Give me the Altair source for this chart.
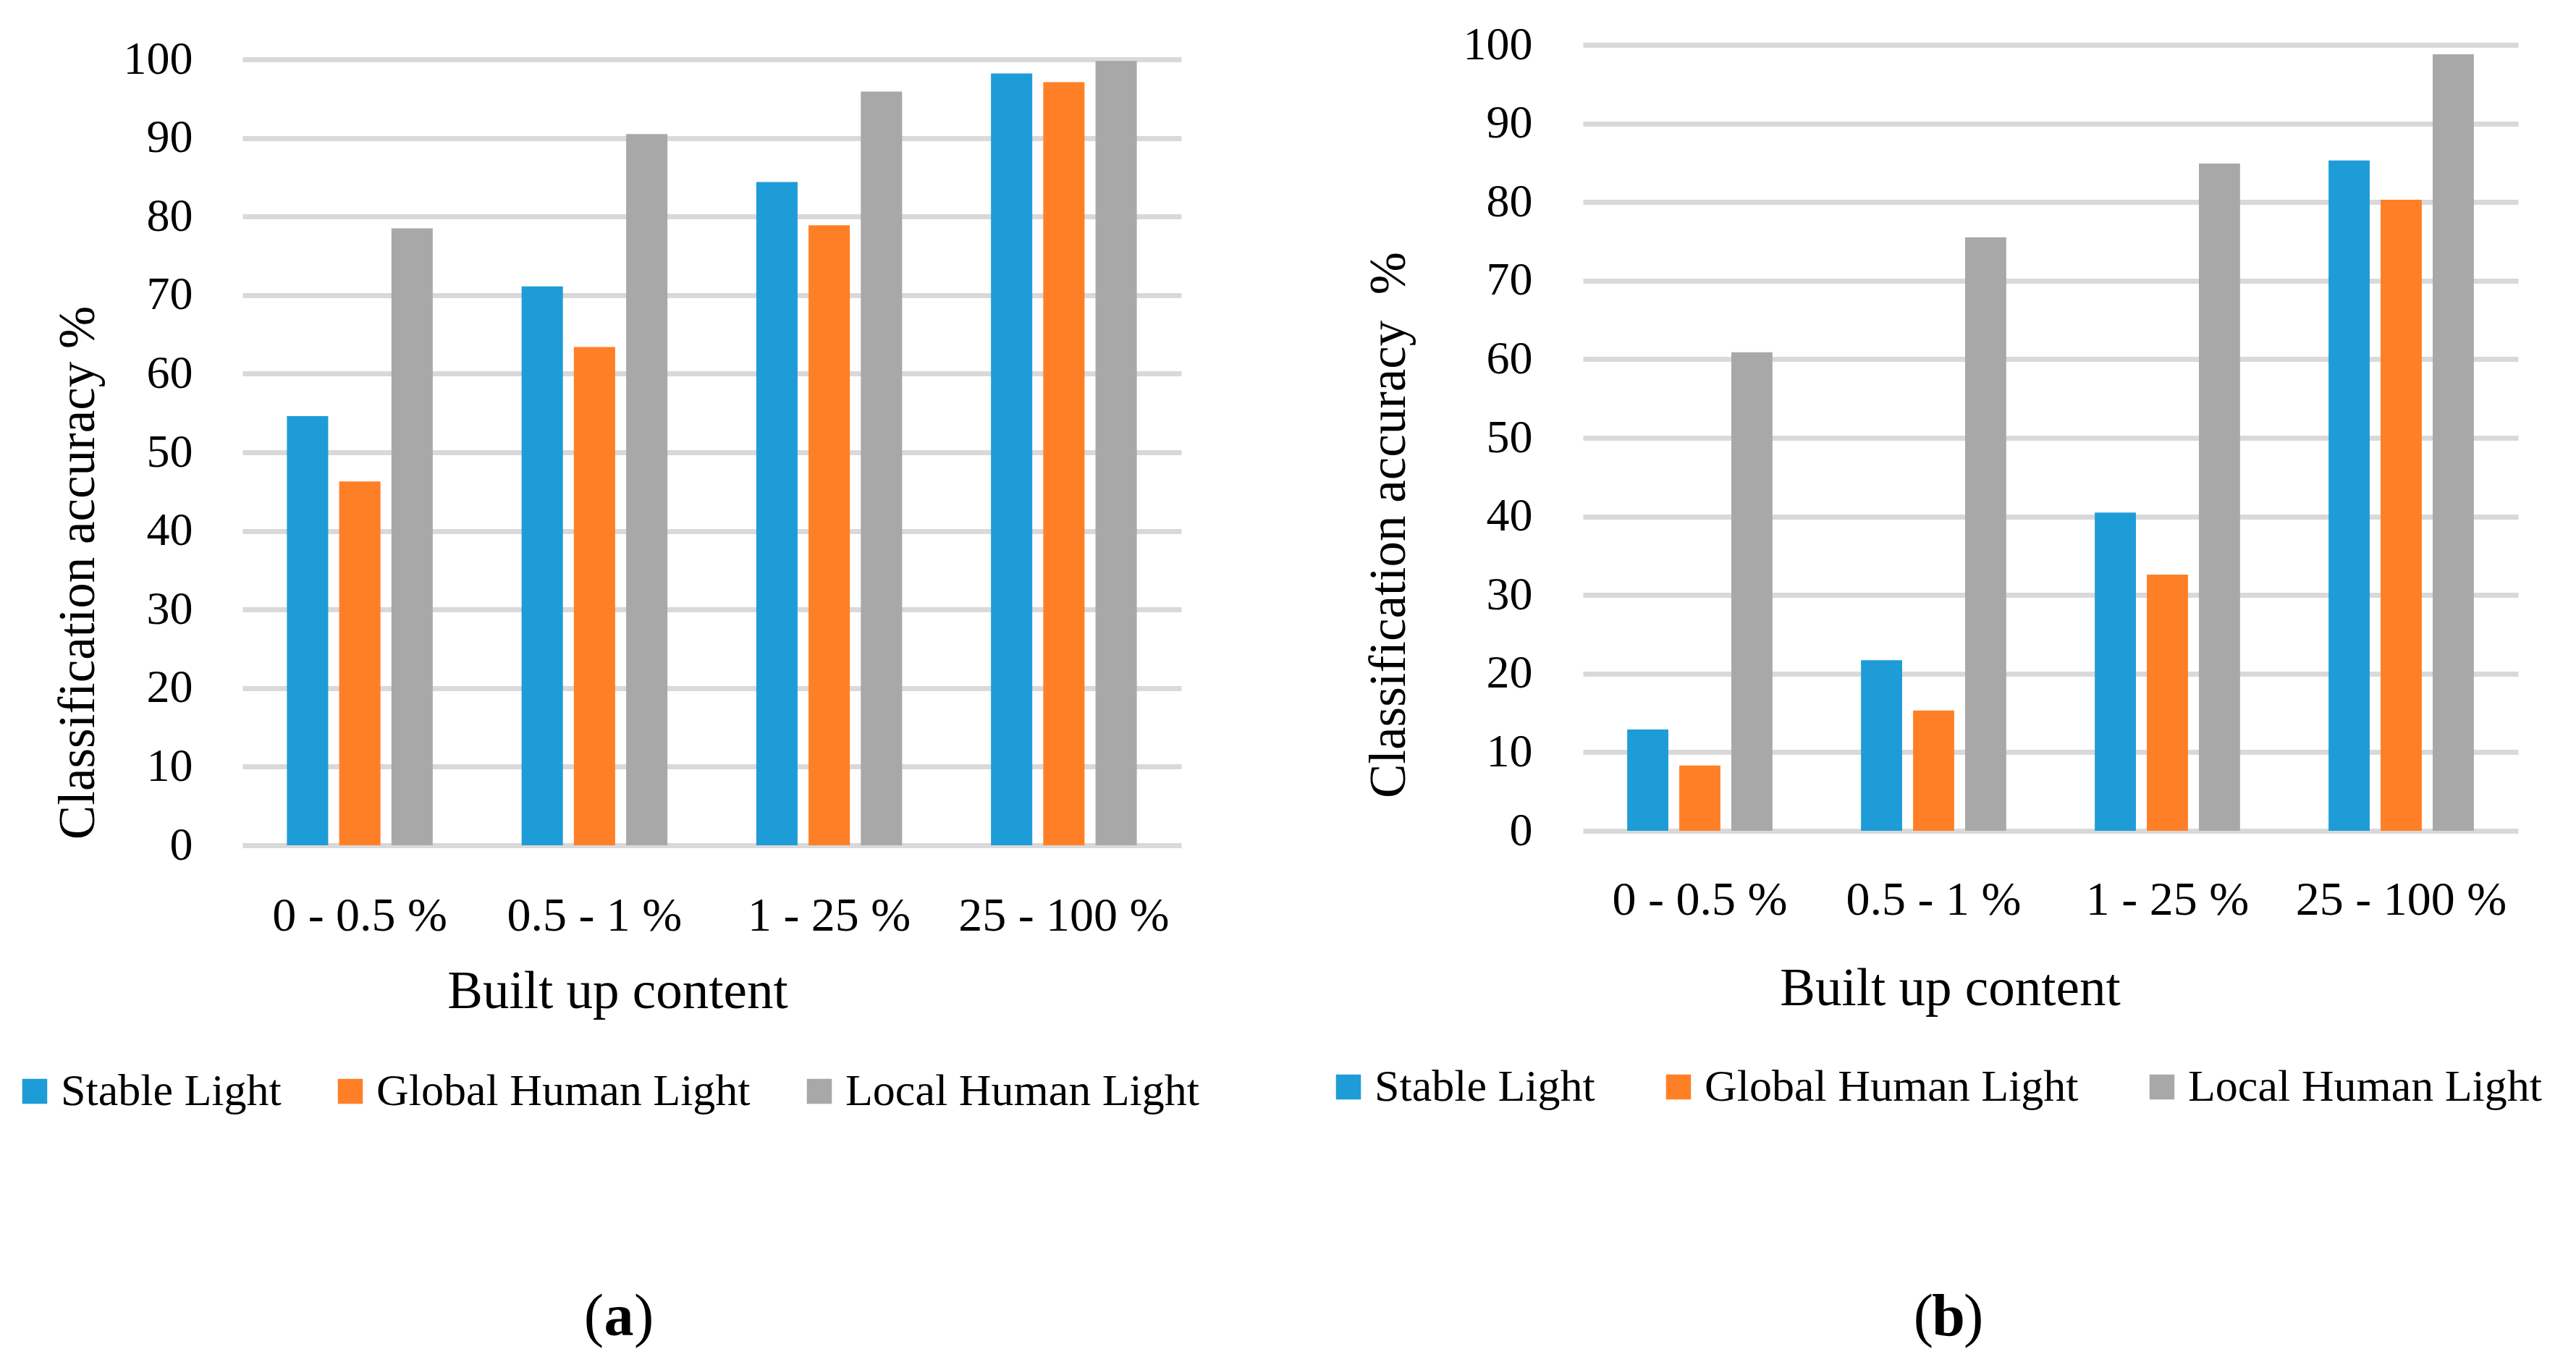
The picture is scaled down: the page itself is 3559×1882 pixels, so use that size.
import altair as alt
import pandas as pd

# ---------------- data ----------------
categories = ["0 - 0.5 %", "0.5 - 1 %", "1 - 25 %", "25 - 100 %"]
series = ["Stable Light", "Global Human Light", "Local Human Light"]
colors = ["#1E9CD7", "#FF7F27", "#A8A8A8"]

# panel (a)
a_stable = [54.6, 71.1, 84.4, 98.2]
a_global = [46.3, 63.4, 78.9, 97.1]
a_local = [78.5, 90.5, 95.9, 99.8]

# panel (b)
b_stable = [12.9, 21.7, 40.5, 85.3]
b_global = [8.3, 15.3, 32.6, 80.3]
b_local = [60.9, 75.5, 84.9, 98.8]

y_ticks = [0, 10, 20, 30, 40, 50, 60, 70, 80, 90, 100]
x_title = "Built up content"
y_title_a = "Classification accuracy %"
y_title_b = "Classification accuracy\u00a0 %"
captions = ["a", "b"]

FONT = "Liberation Serif"


def table(stable, glob, local):
    rows = []
    for s, vals in zip(series, [stable, glob, local]):
        for c, v in zip(categories, vals):
            rows.append({"cat": c, "series": s, "value": v})
    return pd.DataFrame(rows)


def panel(df, width, height, ymax, ylab_pad, ytitle, ytitle_x, ytitle_y,
          xlab_pad, xtitle_x, xtitle_y, leg_x, leg_y, leg_font, leg_colpad,
          cap, cap_x, cap_y):
    bars = alt.Chart(df).mark_bar().encode(
        x=alt.X(
            "cat:N", sort=categories,
            scale=alt.Scale(paddingInner=0, paddingOuter=0),
            axis=alt.Axis(
                title=x_title, labelAngle=0, labelFontSize=66, labelFont=FONT,
                labelColor="black", labelPadding=xlab_pad,
                labelBaseline="alphabetic", labelLimit=1000,
                ticks=False, domain=False, grid=False,
                titleFont=FONT, titleFontSize=73, titleFontWeight="normal",
                titleColor="black", titleX=xtitle_x, titleY=xtitle_y,
                titleBaseline="alphabetic", titleAlign="center", titleLimit=3000,
            ),
        ),
        xOffset=alt.XOffset(
            "series:N", sort=series,
            scale=alt.Scale(paddingInner=0.21, paddingOuter=0.85),
        ),
        y=alt.Y(
            "value:Q",
            scale=alt.Scale(domain=[0, ymax], nice=False, zero=True),
            axis=alt.Axis(
                values=y_ticks, title=ytitle, labelFontSize=64, labelFont=FONT,
                labelColor="black", labelPadding=ylab_pad, labelLimit=1000,
                ticks=False, domain=False, grid=True, gridColor="#D9D9D9",
                gridWidth=7, titleFont=FONT, titleFontSize=71,
                titleFontWeight="normal", titleColor="black", titleAngle=270,
                titleX=ytitle_x, titleY=ytitle_y, titleBaseline="alphabetic",
                titleAlign="center", titleLimit=3000,
            ),
        ),
        color=alt.Color(
            "series:N", sort=series,
            scale=alt.Scale(domain=series, range=colors),
            legend=alt.Legend(
                title=None, orient="none", legendX=leg_x, legendY=leg_y,
                direction="horizontal", columns=3, symbolType="square",
                symbolSize=1190, symbolStrokeWidth=0, symbolOpacity=1,
                labelFont=FONT, labelFontSize=leg_font, labelColor="black",
                labelOffset=5, columnPadding=leg_colpad, labelLimit=1000,
                padding=0,
            ),
        ),
    )

    one = pd.DataFrame({"k": [0]})
    lp = alt.Chart(one).mark_text(
        text="(", font=FONT, fontSize=82, align="right",
        baseline="alphabetic", color="black",
    ).encode(x=alt.value(cap_x - 21), y=alt.value(cap_y))
    mid = alt.Chart(one).mark_text(
        text=cap, font=FONT, fontSize=82, fontWeight="bold", align="center",
        baseline="alphabetic", color="black",
    ).encode(x=alt.value(cap_x), y=alt.value(cap_y))
    rp = alt.Chart(one).mark_text(
        text=")", font=FONT, fontSize=82, align="left",
        baseline="alphabetic", color="black",
    ).encode(x=alt.value(cap_x + 21), y=alt.value(cap_y))

    return alt.layer(bars, lp, mid, rp).properties(width=width, height=height)


left = panel(
    table(a_stable, a_global, a_local), width=1297, height=1106,
    ymax=100 * 1106 / 1086, ylab_pad=69, ytitle=y_title_a,
    ytitle_x=-206, ytitle_y=729, xlab_pad=117, xtitle_x=518, xtitle_y=224,
    leg_x=-318, leg_y=1415, leg_font=62, leg_colpad=64,
    cap=captions[0], cap_x=520, cap_y=1783,
)
right = panel(
    table(b_stable, b_global, b_local), width=1292, height=1086,
    ymax=100, ylab_pad=70, ytitle=y_title_b,
    ytitle_x=-247, ytitle_y=663, xlab_pad=115, xtitle_x=507, xtitle_y=240,
    leg_x=-355, leg_y=1409, leg_font=62, leg_colpad=84,
    cap=captions[1], cap_x=505, cap_y=1783,
)

chart = (
    alt.hconcat(left, right, spacing=555, bounds="flush")
    .resolve_scale(x="independent", y="independent", color="independent",
                   xOffset="independent")
    .resolve_legend(color="independent")
    .configure_view(stroke=None)
    .properties(background="white",
                padding={"left": 9, "top": 22, "right": 0, "bottom": 24})
)

chart.save("out.html", embed_options={"renderer": "svg", "actions": False})
